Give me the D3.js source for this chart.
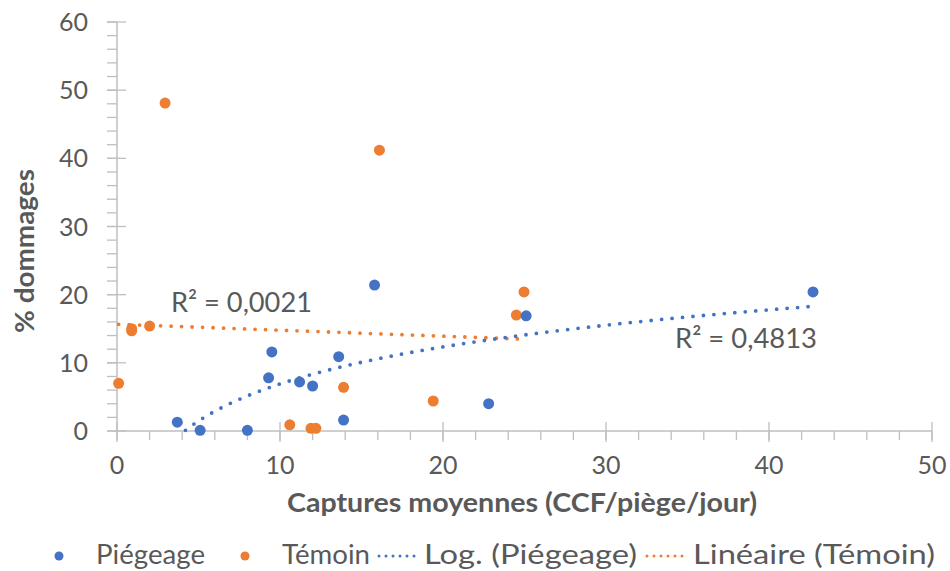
<!DOCTYPE html>
<html><head><meta charset="utf-8">
<script src="https://cdn.jsdelivr.net/npm/d3@7/dist/d3.min.js"></script>
<style>body{margin:0;background:#fff}svg text{font-family:Lato,"Open Sans",sans-serif}</style>
</head><body><svg id="c" width="950" height="571"></svg>
<script>
// Data
const piegeageX = [3.7, 5.1, 8.0, 9.5, 9.3, 11.2, 12.0, 13.6, 13.9, 15.8, 22.8, 25.1, 42.7];
const piegeageY = [1.3, 0.1, 0.1, 11.6, 7.8, 7.2, 6.6, 10.9, 1.6, 21.4, 4.0, 16.9, 20.4];
const temoinX = [0.1, 0.9, 0.9, 2.0, 2.95, 10.6, 11.9, 12.2, 13.9, 16.1, 19.4, 24.5, 24.97];
const temoinY = [7.0, 15.0, 14.7, 15.4, 48.1, 0.9, 0.4, 0.4, 6.4, 41.2, 4.4, 17.0, 20.4];
const xTicks = [0, 10, 20, 30, 40, 50];
const yTicks = [0, 10, 20, 30, 40, 50, 60];
const r2Log = "R² = 0,4813";
const r2Lin = "R² = 0,0021";
const legendLabels = ["Piégeage", "Témoin", "Log. (Piégeage)", "Linéaire (Témoin)"];

const blue = "#4472C4", orange = "#ED7D31", grey = "#595959", axisC = "#BFBFBF";
const svg = d3.select("#c");
const x = d3.scaleLinear().domain([0, 50]).range([117, 932]);
const y = d3.scaleLinear().domain([0, 60]).range([431, 22]);

const g = svg.append("g");
const minorX = d3.range(0, 50.01, 2);
const minorY = d3.range(0, 60.01, 2);
g.selectAll(".mx").data(minorX).enter().append("line")
  .attr("x1", d => x(d)).attr("x2", d => x(d)).attr("y1", 431).attr("y2", 440)
  .attr("stroke", axisC).attr("stroke-width", 1.3);
g.selectAll(".Mx").data(xTicks).enter().append("line")
  .attr("x1", d => x(d)).attr("x2", d => x(d)).attr("y1", 422).attr("y2", 442)
  .attr("stroke", axisC).attr("stroke-width", 1.3);
g.selectAll(".my").data(minorY).enter().append("line")
  .attr("y1", d => y(d)).attr("y2", d => y(d)).attr("x1", 107).attr("x2", 117)
  .attr("stroke", axisC).attr("stroke-width", 1.3);
g.selectAll(".My").data(yTicks).enter().append("line")
  .attr("y1", d => y(d)).attr("y2", d => y(d)).attr("x1", 107).attr("x2", 126)
  .attr("stroke", axisC).attr("stroke-width", 1.3);
g.append("line").attr("x1", x(0)).attr("x2", x(50)).attr("y1", y(0)).attr("y2", y(0)).attr("stroke", axisC).attr("stroke-width", 1.5);
g.append("line").attr("x1", x(0)).attr("x2", x(0)).attr("y1", y(0)).attr("y2", y(60)).attr("stroke", axisC).attr("stroke-width", 1.5);

// tick labels
g.selectAll(".xl").data(xTicks).enter().append("text")
  .attr("x", d => x(d)).attr("y", 474).attr("text-anchor", "middle")
  .attr("font-size", 25).attr("fill", grey).text(d => d);
g.selectAll(".yl").data(yTicks).enter().append("text")
  .attr("x", 88).attr("y", d => y(d) + 9).attr("text-anchor", "end")
  .attr("font-size", 25).attr("fill", grey).text(d => d);

// titles
svg.append("text").attr("x", 287).attr("y", 512)
  .attr("font-size", 27).attr("font-weight", "bold").attr("fill", grey)
  .attr("textLength", 470).attr("lengthAdjust", "spacingAndGlyphs")
  .text("Captures moyennes (CCF/piège/jour)");
svg.append("text").attr("transform", "translate(34,333) rotate(-90)")
  .attr("font-size", 27).attr("font-weight", "bold").attr("fill", grey)
  .attr("textLength", 164).attr("lengthAdjust", "spacingAndGlyphs").text("% dommages");

// regressions (least squares from the data)
function linFit(xs, ys) {
  const n = xs.length, mx = d3.mean(xs), my = d3.mean(ys);
  let sxy = 0, sxx = 0;
  for (let i = 0; i < n; i++) { sxy += (xs[i] - mx) * (ys[i] - my); sxx += (xs[i] - mx) ** 2; }
  const a = sxy / sxx; return { a, b: my - a * mx };
}
const lin = linFit(temoinX, temoinY);
const logF = linFit(piegeageX.map(Math.log), piegeageY);

const dot = (sel, c) => sel.attr("fill", "none").attr("stroke", c).attr("stroke-width", 3.8)
  .attr("stroke-linecap", "round").attr("stroke-dasharray", "0 10.5");

const linPts = d3.range(d3.min(temoinX), d3.max(temoinX) + 0.001, (d3.max(temoinX) - d3.min(temoinX)) / 50)
  .map(v => [v, lin.a * v + lin.b]);
const logPts = d3.range(d3.min(piegeageX), d3.max(piegeageX) + 0.001, 0.1)
  .map(v => [v, logF.a * Math.log(v) + logF.b]).filter(p => p[1] >= 0);
const line = d3.line().x(d => x(d[0])).y(d => y(d[1]));

svg.selectAll(".pt").data(temoinX.map((v, i) => [v, temoinY[i]])).enter().append("circle")
  .attr("cx", d => x(d[0])).attr("cy", d => y(d[1])).attr("r", 5.5).attr("fill", orange);
svg.selectAll(".pp").data(piegeageX.map((v, i) => [v, piegeageY[i]])).enter().append("circle")
  .attr("cx", d => x(d[0])).attr("cy", d => y(d[1])).attr("r", 5.5).attr("fill", blue);

svg.append("path").attr("d", line(linPts)).call(dot, orange);
svg.append("path").attr("d", line(logPts)).call(dot, blue);

// R2 labels
svg.append("text").attr("x", 171).attr("y", 312).attr("font-size", 27).attr("fill", grey)
  .attr("textLength", 141).attr("lengthAdjust", "spacingAndGlyphs").text(r2Lin);
svg.append("text").attr("x", 675).attr("y", 348).attr("font-size", 27).attr("fill", grey)
  .attr("textLength", 142).attr("lengthAdjust", "spacingAndGlyphs").text(r2Log);

// legend
const lg = svg.append("g").attr("font-size", 27).attr("fill", grey);
lg.append("circle").attr("cx", 59).attr("cy", 556).attr("r", 4.5).attr("fill", blue);
lg.append("text").attr("x", 96).attr("y", 564).attr("textLength", 109).attr("lengthAdjust", "spacingAndGlyphs").text(legendLabels[0]);
lg.append("circle").attr("cx", 245).attr("cy", 556).attr("r", 4.5).attr("fill", orange);
lg.append("text").attr("x", 282).attr("y", 564).attr("textLength", 88).attr("lengthAdjust", "spacingAndGlyphs").text(legendLabels[1]);
lg.append("line").attr("x1", 379).attr("x2", 421).attr("y1", 556).attr("y2", 556).call(dot, blue)
  .attr("stroke-width", 3).attr("stroke-dasharray", "0 7");
lg.append("text").attr("x", 424).attr("y", 564).attr("textLength", 213).attr("lengthAdjust", "spacingAndGlyphs").text(legendLabels[2]);
lg.append("line").attr("x1", 647).attr("x2", 689).attr("y1", 556).attr("y2", 556).call(dot, orange)
  .attr("stroke-width", 3).attr("stroke-dasharray", "0 7");
lg.append("text").attr("x", 693).attr("y", 564).attr("textLength", 242).attr("lengthAdjust", "spacingAndGlyphs").text(legendLabels[3]);
</script></body></html>
